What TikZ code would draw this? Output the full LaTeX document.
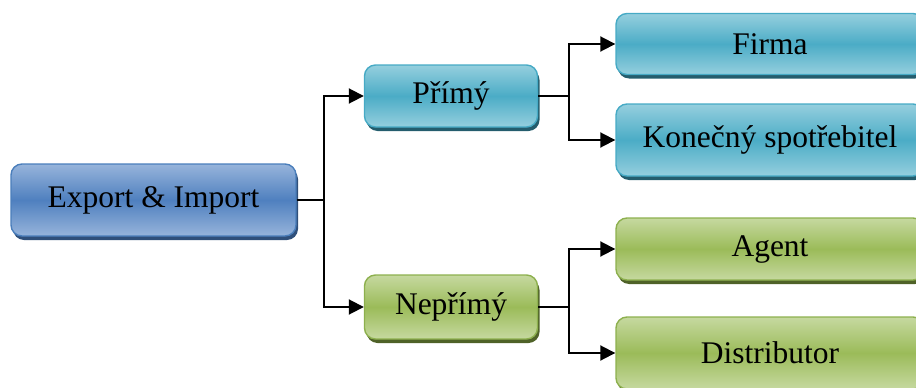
\documentclass[tikz,border=0pt]{standalone}
\usepackage{fontspec}
\setmainfont{Liberation Serif}
\usetikzlibrary{arrows.meta,shadows}
\definecolor{bluemid}{HTML}{4F80BF}
\definecolor{bluelight}{HTML}{97B4DB}
\definecolor{blueline}{HTML}{4A7EBB}
\definecolor{blueshadow}{HTML}{2F4F7A}
\definecolor{tealmid}{HTML}{4BACC6}
\definecolor{teallight}{HTML}{95CFDE}
\definecolor{tealline}{HTML}{46AAC5}
\definecolor{tealshadow}{HTML}{245D6D}
\definecolor{greenmid}{HTML}{9BBB59}
\definecolor{greenlight}{HTML}{C6D9A0}
\definecolor{greenline}{HTML}{8DB04E}
\definecolor{greenshadow}{HTML}{4F6228}
\tikzset{
  basebox/.style={rounded corners=11pt, line width=1.4pt, inner sep=0pt,
    font=\fontsize{31.5pt}{36pt}\selectfont, text=black},
  bluebox/.style={basebox, draw=blueline, top color=bluelight, bottom color=bluelight, middle color=bluemid,
    drop shadow={shadow xshift=2pt, shadow yshift=-4pt, fill=blueshadow, opacity=1}},
  tealbox/.style={basebox, draw=tealline, top color=teallight, bottom color=teallight, middle color=tealmid,
    drop shadow={shadow xshift=2pt, shadow yshift=-4pt, fill=tealshadow, opacity=1}},
  greenbox/.style={basebox, draw=greenline, top color=greenlight, bottom color=greenlight, middle color=greenmid,
    drop shadow={shadow xshift=2pt, shadow yshift=-4pt, fill=greenshadow, opacity=1}},
  conn/.style={line width=1.9pt, black},
  arr/.style={conn, -{Triangle[length=15pt,width=15pt]}},
}
\begin{document}
\begin{tikzpicture}[x=1pt,y=-1pt]
\useasboundingbox (0,0) rectangle (916,388);
\clip (0,0) rectangle (916,388);
\node[bluebox, minimum width=285pt, minimum height=72pt] (exp) at (153.5,200) {Export \& Import};
\node[tealbox, minimum width=173pt, minimum height=62pt] (pri) at (451,96) {Přímý};
\node[greenbox, minimum width=173pt, minimum height=64pt] (nep) at (451,307) {Nepřímý};
\node[tealbox, minimum width=308pt, minimum height=61pt] (firma) at (770,44) {Firma};
\node[tealbox, minimum width=308pt, minimum height=72pt] (kon) at (770,140) {Konečný spotřebitel};
\node[greenbox, minimum width=308pt, minimum height=62pt] (agent) at (770,249) {Agent};
\node[greenbox, minimum width=308pt, minimum height=72pt] (dist) at (770,353) {Distributor};
\draw[conn] (exp.east) -- ++(27,0) coordinate (j1);
\draw[arr] (j1) |- (pri.west);
\draw[arr] (j1) |- (nep.west);
\draw[conn] (pri.east) -- ++(31,0) coordinate (j2);
\draw[arr] (j2) |- (firma.west);
\draw[arr] (j2) |- (kon.west);
\draw[conn] (nep.east) -- ++(31,0) coordinate (j3);
\draw[arr] (j3) |- (agent.west);
\draw[arr] (j3) |- (dist.west);
\end{tikzpicture}
\end{document}
